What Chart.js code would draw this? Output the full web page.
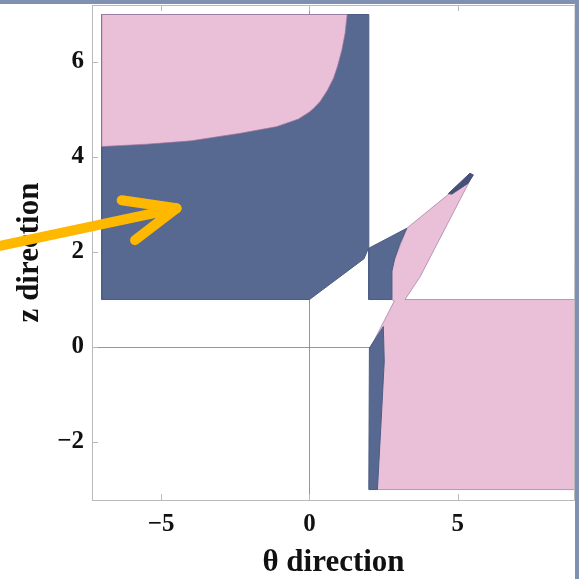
<!DOCTYPE html>
<html>
<head>
<meta charset="utf-8">
<script src="https://cdn.jsdelivr.net/npm/chart.js@4.4.1/dist/chart.umd.min.js"></script>
<style>
  html, body { margin: 0; padding: 0; background: #fff; }
  #wrap { position: relative; width: 586px; height: 579px; }
  #barTop { position: absolute; left: 0; top: 0; width: 579px; height: 4px; background: rgb(128, 144, 178); }
  #barRight { position: absolute; left: 575px; top: 0; width: 4px; height: 579px; background: rgb(128, 144, 178); }
</style>
</head>
<body>
<div id="wrap">
  <canvas id="regionChart"></canvas>
  <div id="barTop"></div>
  <div id="barRight"></div>
</div>
<script>
(function () {
    // region outlines, [theta, z]
    const blueBlock = [[-7, 1], [0, 1], [1.84, 1.86], [2.0, 2.1], [2.0, 7], [-7, 7], [-7, 1]];
    const pinkTop = [[-7, 7], [1.27, 7], [1.2, 6.6], [1.09, 6.25], [0.95, 5.92], [0.81, 5.66], [0.6, 5.4],
        [0.36, 5.17], [0.15, 5.03], [0, 4.95], [-0.37, 4.8], [-1.1, 4.64], [-2.33, 4.5], [-4, 4.34],
        [-5.5, 4.27], [-7, 4.22], [-7, 7]];
    const blueWedge = [[2.0, 1.0], [2.77, 1.0], [2.78, 1.6], [2.88, 1.88], [3.05, 2.18], [3.28, 2.5], [2.0, 2.08], [2.0, 1.0]];
    const pinkLower = [[2.29, -3], [9.6, -3], [9.6, 1], [3.22, 1], [3.73, 1.48], [5.52, 3.64], [3.28, 2.5],
        [2.72, 1.6], [2.77, 1.0], [2.86, 0.97], [2.04, -0.03], [2.29, -3]];
    const blueStrip = [[2.0, -3], [2.29, -3], [2.42, -1.5], [2.52, -0.3], [2.49, 0.43], [2.02, -0.02], [2.0, -3]];
    const blueTip = [[4.68, 3.23], [5.41, 3.66], [5.52, 3.62], [5.35, 3.45], [4.8, 3.22], [4.68, 3.23]];

    const xTicks = [-5, 0, 5];
    const yTicks = [-2, 0, 2, 4, 6];

    // yellow pointer drawn on top, in data units
    const arrowShaft = [[-10.43, 2.13], [-4.48, 2.92]];
    const arrowHead = [[-6.33, 3.09], [-4.48, 2.92], [-5.88, 2.25]];

    const paleta = {
        azul: 'rgb(87, 104, 145)',
        azulBorda: 'rgb(76, 92, 132)',
        rosa: 'rgb(234, 192, 216)',
        rosaBorda: 'rgba(160, 120, 160, 0.7)',
        amarelo: 'rgb(255, 184, 0)',
        eixo: 'rgba(140, 140, 140, 0.9)',
        moldura: 'rgb(185, 185, 185)'
    };
    const serif = '"Liberation Serif", "Times New Roman", serif';

    const toPts = arr => arr.map(([x, y]) => ({ x, y }));
    const minus = v => (v < 0 ? '\u2212' + Math.abs(v) : String(v));

    function regiao(pts, fillColor, edgeColor, order) {
        return {
            data: toPts(pts),
            showLine: true,
            fill: 'shape',
            backgroundColor: fillColor,
            borderColor: edgeColor,
            borderWidth: 1,
            pointRadius: 0,
            pointHoverRadius: 0,
            tension: 0,
            order: order
        };
    }

    // moldura + ticks internos
    const frame = {
        id: 'frame',
        afterDraw(chart) {
            const { ctx, chartArea: a, scales: { x, y } } = chart;
            ctx.save();
            ctx.strokeStyle = paleta.moldura;
            ctx.lineWidth = 1;
            ctx.beginPath();
            ctx.moveTo(a.left, a.top + 0.5);
            ctx.lineTo(a.right, a.top + 0.5);
            ctx.lineTo(a.right - 0.5, a.bottom);
            ctx.stroke();
            ctx.beginPath();
            xTicks.forEach(v => {
                const px = Math.round(x.getPixelForValue(v)) + 0.5;
                ctx.moveTo(px, a.bottom); ctx.lineTo(px, a.bottom - 6);
                ctx.moveTo(px, a.top); ctx.lineTo(px, a.top + 6);
            });
            yTicks.forEach(v => {
                const py = Math.round(y.getPixelForValue(v)) + 0.5;
                ctx.moveTo(a.left, py); ctx.lineTo(a.left + 6, py);
            });
            ctx.stroke();
            ctx.restore();
        }
    };

    const seta = {
        id: 'seta',
        afterDraw(chart) {
            const { ctx, scales: { x, y } } = chart;
            const px = p => [x.getPixelForValue(p[0]), y.getPixelForValue(p[1])];
            ctx.save();
            ctx.strokeStyle = paleta.amarelo;
            ctx.lineWidth = 10;
            ctx.lineCap = 'round';
            ctx.lineJoin = 'round';
            [arrowShaft, arrowHead].forEach(path => {
                ctx.beginPath();
                path.forEach((p, i) => {
                    const [cx, cy] = px(p);
                    if (i === 0) ctx.moveTo(cx, cy); else ctx.lineTo(cx, cy);
                });
                ctx.stroke();
            });
            ctx.restore();
        }
    };

    const semPadding = s => {
        s.paddingTop = 0; s.paddingBottom = 0;
        s.paddingLeft = 0; s.paddingRight = 0;
    };

    const grafico = document.getElementById('regionChart');
    if (grafico) {
        new Chart(grafico, {
            type: 'scatter',
            data: {
                datasets: [
                    regiao(blueBlock, paleta.azul, paleta.azulBorda, 6),
                    regiao(pinkTop, paleta.rosa, paleta.rosaBorda, 5),
                    regiao(pinkLower, paleta.rosa, paleta.rosaBorda, 4),
                    regiao(blueWedge, paleta.azul, paleta.azulBorda, 3),
                    regiao(blueStrip, paleta.azul, paleta.azulBorda, 2),
                    regiao(blueTip, 'rgb(70, 80, 120)', 'rgb(70, 80, 120)', 1)
                ]
            },
            options: {
                responsive: true,
                maintainAspectRatio: false,
                animation: false,
                layout: { padding: { top: 5, right: 11, bottom: 0, left: 0 } },
                plugins: {
                    legend: { display: false },
                    tooltip: { enabled: false }
                },
                scales: {
                    x: {
                        type: 'linear',
                        min: -7.33,
                        max: 8.95,
                        z: 1,
                        afterBuildTicks: s => { s.ticks = xTicks.map(v => ({ value: v })); },
                        afterFit: s => { s.height = 79; semPadding(s); },
                        grid: {
                            drawTicks: false,
                            lineWidth: 1,
                            color: c => (c.tick && c.tick.value === 0 ? paleta.eixo : 'rgba(0,0,0,0)')
                        },
                        border: { display: true, color: paleta.moldura, width: 1 },
                        ticks: {
                            padding: 10,
                            color: '#111',
                            autoSkip: false,
                            maxRotation: 0,
                            font: { family: serif, size: 25, weight: 'bold' },
                            callback: v => minus(v)
                        },
                        title: {
                            display: true,
                            text: '\u03b8 direction',
                            color: '#111',
                            font: { family: serif, size: 31, weight: 'bold', lineHeight: 1 },
                            padding: { top: 0, bottom: 1 }
                        }
                    },
                    y: {
                        type: 'linear',
                        min: -3.22,
                        max: 7.2,
                        z: 1,
                        afterBuildTicks: s => { s.ticks = yTicks.map(v => ({ value: v })); },
                        afterFit: s => { s.width = 92; semPadding(s); },
                        grid: {
                            drawTicks: false,
                            lineWidth: 1,
                            color: c => (c.tick && c.tick.value === 0 ? paleta.eixo : 'rgba(0,0,0,0)')
                        },
                        border: { display: true, color: paleta.moldura, width: 1 },
                        ticks: {
                            padding: 8,
                            color: '#111',
                            autoSkip: false,
                            font: { family: serif, size: 25, weight: 'bold' },
                            callback: v => minus(v)
                        },
                        title: {
                            display: true,
                            text: 'z direction',
                            color: '#111',
                            font: { family: serif, size: 31, weight: 'bold', lineHeight: 1 },
                            padding: { top: 14, bottom: 0 }
                        }
                    }
                }
            },
            plugins: [frame, seta]
        });
    }
})();
</script>
</body>
</html>
